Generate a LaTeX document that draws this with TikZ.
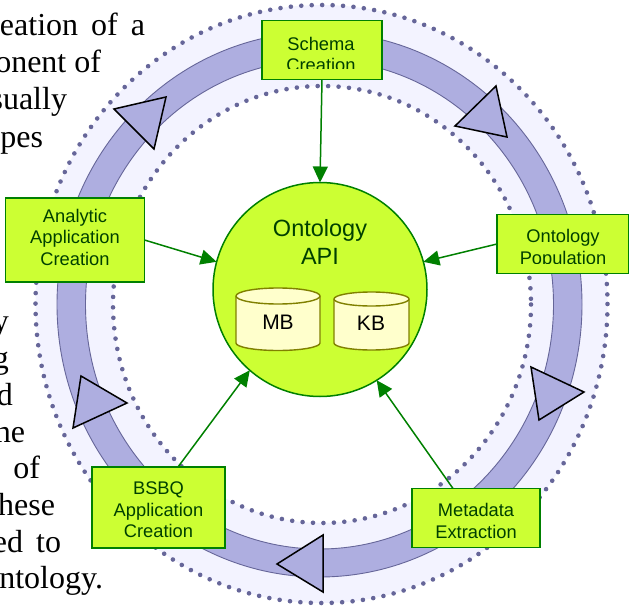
\documentclass[tikz,border=0pt]{standalone}
\usepackage{fontspec}
\setmainfont{Liberation Sans}
\newfontfamily\bodyserif{Liberation Serif}
\definecolor{boxfill}{HTML}{CCFF33}
\definecolor{gline}{HTML}{008000}
\definecolor{gtext}{HTML}{004000}
\definecolor{bandfill}{HTML}{AEAEE0}
\definecolor{bandline}{HTML}{666699}
\definecolor{ringfill}{HTML}{F3F3FF}
\definecolor{cylfill}{HTML}{FFFFCC}
\definecolor{cylline}{HTML}{808000}
\usetikzlibrary{arrows.meta}
\tikzset{
  stagebox/.style={draw=gline,fill=boxfill,line width=1.6pt,inner sep=0pt,outer sep=0pt},
  stagelabel/.style={inner sep=0pt,outer sep=0pt,text=gtext,align=center,font=\fontsize{18.3}{21.5}\selectfont},
  flow/.style={draw=gline,line width=1.5pt,-{Triangle[length=16pt,width=15pt]}},
  dotring/.style={draw=bandline,line width=4.6pt,line cap=round,dash pattern=on 0pt off 10.45pt},
  turn/.style={draw=black,fill=bandfill,line width=1.5pt,line join=miter},
  cyl/.style={draw=cylline,fill=cylfill,line width=1.4pt},
  cyllabel/.style={inner sep=0pt,font=\fontsize{21}{23}\selectfont,text=black},
  bodyline/.style={inner sep=0pt,outer sep=0pt,anchor=base east,font=\bodyserif\fontsize{32}{34}\selectfont,text=black},
}
\begin{document}
\begin{tikzpicture}[x=1pt,y=-1pt]
\useasboundingbox (0,0) rectangle (629,607);
\clip (0,0) rectangle (629,607);
% body text
\node[bodyline] (t1) at (145,36) {eation\hspace{13pt}of\hspace{13pt}a};
\node[bodyline] (t2) at (101,73) {onent of};
\node[bodyline] (t3) at (67,110) {sually};
\node[bodyline] (t4) at (43,147) {pes};
\node[bodyline] (t5) at (9,331) {y};
\node[bodyline] (t6) at (9,368) {g};
\node[bodyline] (t7) at (13,405) {d};
\node[bodyline] (t8) at (25,442) {he};
\node[bodyline] (t9) at (40,478) {of};
\node[bodyline] (t10) at (55,515) {hese};
\node[bodyline] (t11) at (61,552) {ed\hspace{13pt}to};
\node[bodyline] (t12) at (103,588) {ntology.};
% rings
\path[fill=ringfill,even odd rule] (321.5,304) ellipse [x radius=286,y radius=299] (322,304.5) ellipse [x radius=209,y radius=218.5];
\draw[dotring] (321.5,304) ellipse [x radius=286,y radius=299];
\draw[dotring] (322,304.5) ellipse [x radius=209,y radius=218.5];
\path[fill=bandfill,draw=bandline,line width=.9pt,even odd rule] (319.5,304.5) ellipse [x radius=262.5,y radius=272.5] (319.5,304.5) ellipse [x radius=234,y radius=244.5];
% direction triangles
\draw[turn] (114,109) -- (166,97) -- (154,149) -- cycle;
\draw[turn] (496,86) -- (507,137) -- (455,126) -- cycle;
\draw[turn] (531,367) -- (584,392) -- (539,420) -- cycle;
\draw[turn] (81,376) -- (127,403) -- (73,428) -- cycle;
\draw[turn] (277,564) -- (323,535) -- (323,592) -- cycle;
% stages
\node[stagebox,minimum width=120pt,minimum height=59pt] (schema) at (322,50) {};
\begin{scope}
\clip (262,21) rectangle (382,69);
\node[stagelabel] (schematext) at (321,54.5) {Schema\\Creation};
\end{scope}
\node[stagebox,minimum width=139pt,minimum height=84pt] (analytic) at (75,240) {};
\node[stagelabel] (analytictext) at (75,237) {Analytic\\Application\\Creation};
\node[stagebox,minimum width=132pt,minimum height=59pt] (population) at (563,244) {};
\begin{scope}
\clip (498,215) rectangle (628,263);
\node[stagelabel] (populationtext) at (563,249) {Ontology\\Population};
\end{scope}
\node[stagebox,minimum width=133pt,minimum height=81pt] (bsbq) at (158.5,507.5) {};
\node[stagelabel] (bsbqtext) at (158.5,510) {BSBQ\\Application\\Creation};
\node[stagebox,minimum width=128pt,minimum height=59pt] (metadata) at (476,518) {};
\node[stagelabel] (metadatatext) at (476,521) {Metadata\\Extraction};
% API
\node[circle,draw=gline,fill=boxfill,line width=1.5pt,minimum size=214pt,inner sep=0pt,outer sep=0pt] (api) at (320,289.5) {};
\node[inner sep=0pt,text=gtext,align=center,font=\fontsize{23.5}{28}\selectfont] (apitext) at (320,242) {Ontology\\API};
\draw[cyl] (236,296) -- (236,343) arc[start angle=180,end angle=0,x radius=42,y radius=7.5] -- (320,296) arc[start angle=0,end angle=-180,x radius=42,y radius=8] -- cycle;
\draw[cyl] (236,296) arc[start angle=180,end angle=0,x radius=42,y radius=8];
\node[cyllabel] (mb) at (278,322) {MB};
\draw[cyl] (334,299) -- (334,343) arc[start angle=180,end angle=0,x radius=37.5,y radius=7] -- (409,299) arc[start angle=0,end angle=-180,x radius=37.5,y radius=7] -- cycle;
\draw[cyl] (334,299) arc[start angle=180,end angle=0,x radius=37.5,y radius=7];
\node[cyllabel] (kb) at (371,323.5) {KB};
% connectors
\draw[flow] (schema.south) -- (api.north);
\draw[flow] (analytic.east) -- (api.165);
\draw[flow] (population.west) -- (api.15);
\draw[flow] ([xshift=19.5pt]bsbq.north) -- (api.229);
\draw[flow] ([xshift=-23pt]metadata.north) -- (api.-58);
\end{tikzpicture}
\end{document}
